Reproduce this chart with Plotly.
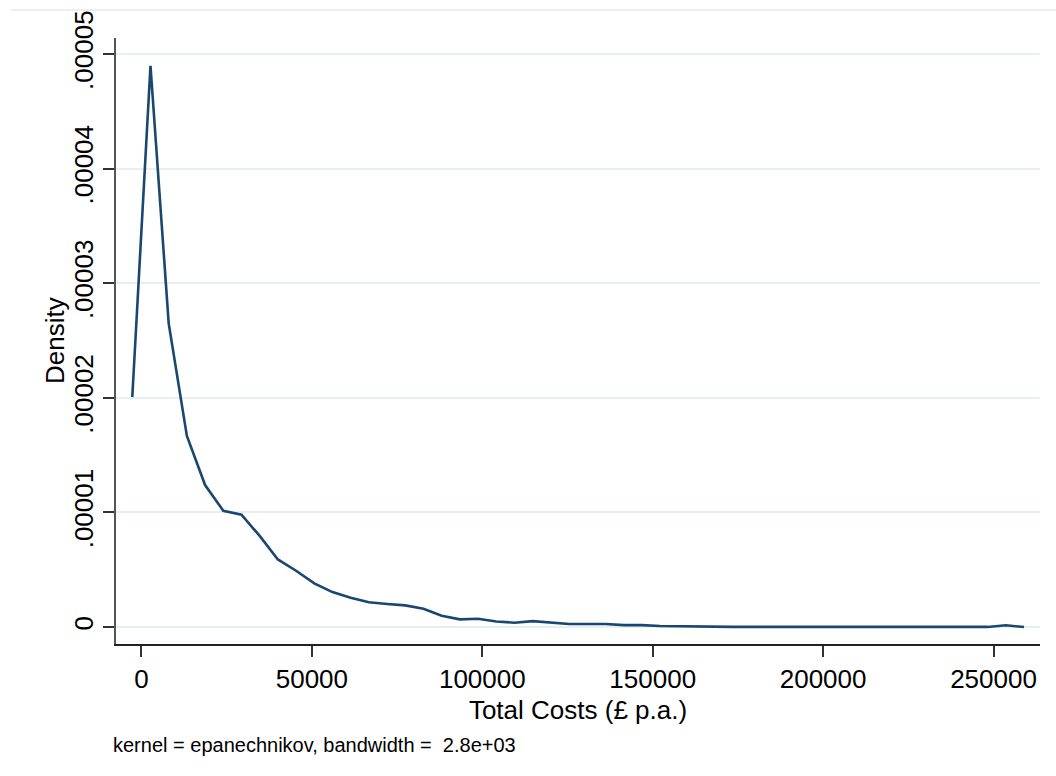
import plotly.graph_objects as go

# Kernel density estimate (50 evaluation points)
total_costs = [-2700, 2640, 7980, 13320, 18660, 24000, 29340, 34680, 40020, 45360,
               50700, 56040, 61380, 66720, 72060, 77400, 82740, 88080, 93420, 98760,
               104100, 109440, 114780, 120120, 125460, 130800, 136140, 141480, 146820, 152160,
               157500, 162840, 168180, 173520, 178860, 184200, 189540, 194880, 200220, 205560,
               210900, 216240, 221580, 226920, 232260, 237600, 242940, 248280, 253620, 258960]

density_e5 = [2.007, 4.898, 2.650, 1.667, 1.239, 1.015, 0.980, 0.795, 0.590, 0.491,
              0.381, 0.305, 0.256, 0.216, 0.201, 0.189, 0.160, 0.099, 0.067, 0.072,
              0.048, 0.038, 0.052, 0.041, 0.026, 0.026, 0.026, 0.017, 0.017, 0.009,
              0.006, 0.002, 0.001, 0.001, 0.001, 0.001, 0.001, 0.001, 0.001, 0.001,
              0.001, 0.001, 0.001, 0.001, 0.001, 0.001, 0.001, 0.001, 0.015, 0.000]
density = [v * 1e-5 for v in density_e5]

x_ticks = [0, 50000, 100000, 150000, 200000, 250000]
x_tick_labels = ["0", "50000", "100000", "150000", "200000", "250000"]
y_ticks = [0, 0.00001, 0.00002, 0.00003, 0.00004, 0.00005]
y_tick_labels = ["0", ".00001", ".00002", ".00003", ".00004", ".00005"]

x_title = "Total Costs (£ p.a.)"
y_title = "Density"
note = "kernel = epanechnikov, bandwidth =  2.8e+03"

FONT = "Liberation Sans, Arial, Helvetica, sans-serif"

fig = go.Figure()
fig.add_trace(go.Scatter(
    x=total_costs, y=density, mode="lines",
    line=dict(color="#1A476F", width=2.6),
    hoverinfo="x+y", showlegend=False,
))

fig.update_layout(
    width=1056, height=776,
    margin=dict(l=116, r=16, t=38, b=132, autoexpand=False),
    paper_bgcolor="white", plot_bgcolor="white",
    font=dict(family=FONT, size=26, color="black"),
    xaxis=dict(
        range=[-7480, 263640], automargin=False,
        tickvals=x_ticks, ticktext=x_tick_labels,
        ticks="outside", ticklen=11, tickwidth=1.5, tickcolor="#333333",
        showline=True, linecolor="#222222", linewidth=2,
        showgrid=False, zeroline=False,
        tickfont=dict(size=26, family=FONT, color="black"),
        title=dict(text=x_title, font=dict(size=26, family=FONT, color="black"), standoff=8),
    ),
    yaxis=dict(
        range=[-0.148e-5, 5.14e-5], automargin=False,
        tickvals=y_ticks, ticktext=y_tick_labels, tickangle=-90,
        ticks="outside", ticklen=11, tickwidth=1.5, tickcolor="#333333",
        showline=True, linecolor="#555555", linewidth=2,
        showgrid=True, gridcolor="#E6F0F2", gridwidth=2, zeroline=False,
        tickfont=dict(size=26, family=FONT, color="black"),
    ),
    annotations=[
        dict(
            text=y_title, xref="paper", yref="paper",
            x=(55 - 116) / 924, y=0.5, textangle=-90,
            xanchor="center", yanchor="middle", showarrow=False,
            font=dict(size=26, family=FONT, color="black"),
        ),
        dict(
            text=note, xref="paper", yref="paper",
            x=(111 - 116) / 924, y=(644 - 745) / 606,
            xanchor="left", yanchor="middle", showarrow=False,
            font=dict(size=20, family=FONT, color="black"),
        ),
    ],
    shapes=[dict(
        type="line", xref="paper", yref="paper",
        x0=(11 - 116) / 924, x1=(1056 - 116) / 924,
        y0=(644 - 10) / 606, y1=(644 - 10) / 606,
        line=dict(color="#E8E8E8", width=1.5),
    )],
)

fig.write_html(
    "out.html",
    config={"displayModeBar": False},
    post_script="document.body.style.margin='0';document.body.style.overflow='hidden';",
)
